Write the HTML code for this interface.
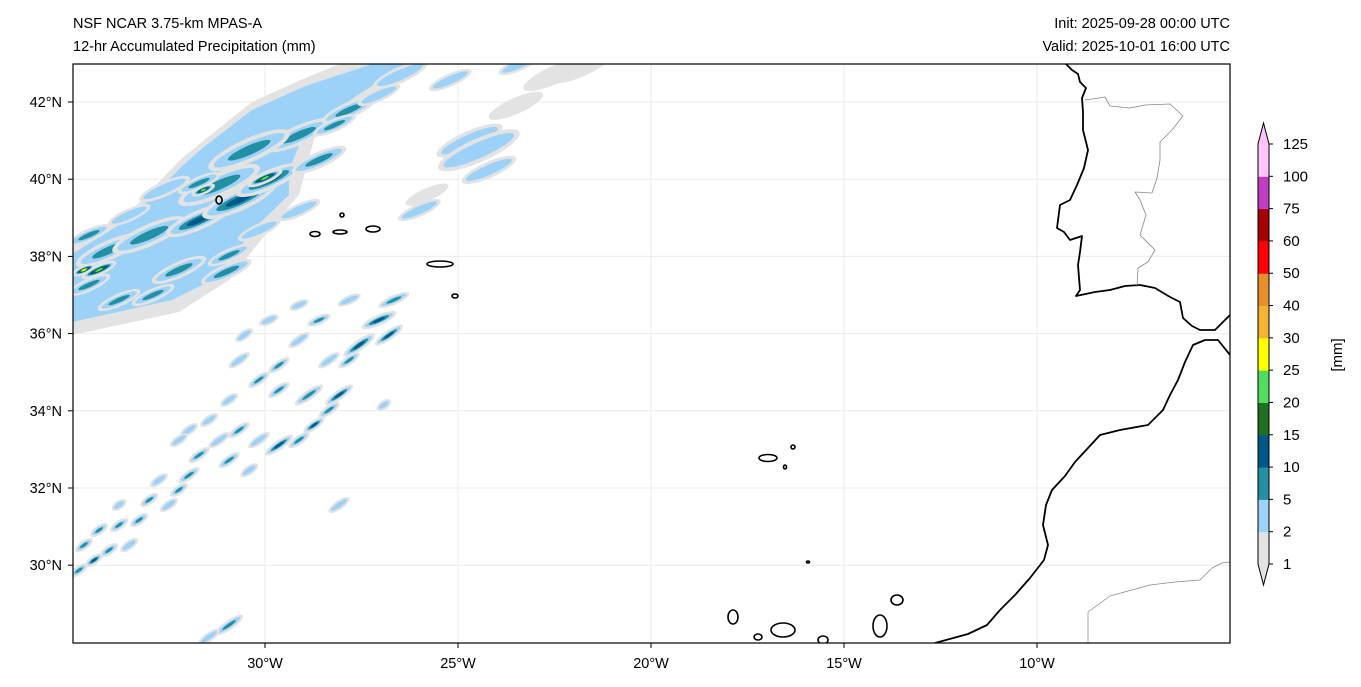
<!DOCTYPE html>
<html><head><meta charset="utf-8"><style>
html,body{margin:0;padding:0;background:#fff;}
svg{display:block;font-family:"Liberation Sans","DejaVu Sans",sans-serif;}
</style></head><body>
<svg id="map" width="1361" height="687" viewBox="0 0 1361 687" xmlns="http://www.w3.org/2000/svg">
<text x="73" y="28" font-size="14.5">NSF NCAR 3.75-km MPAS-A</text>
<text x="73" y="51" font-size="14.5">12-hr Accumulated Precipitation (mm)</text>
<text x="1230" y="28" font-size="14.5" text-anchor="end">Init: 2025-09-28 00:00 UTC</text>
<text x="1230" y="51" font-size="14.5" text-anchor="end">Valid: 2025-10-01 16:00 UTC</text>
<defs><clipPath id="clip"><rect x="73" y="64" width="1157" height="579"/></clipPath></defs>
<g id="grid"></g>
<g id="precip" clip-path="url(#clip)"></g>
<g id="coast" clip-path="url(#clip)"></g>
<rect x="73" y="64" width="1157" height="579" fill="none" stroke="#000" stroke-width="1.2"/>
<g id="axes"></g>
<g id="cbar"></g>
<text transform="translate(1342,355) rotate(-90)" font-size="15" text-anchor="middle">[mm]</text>
</svg>
<script>
// ---- data ----
const lonTicks=[-30,-25,-20,-15,-10];
const latTicks=[30,32,34,36,38,40,42];
const levels=[1,2,5,10,15,20,25,30,40,50,60,75,100,125];
const levelColors=["#e3e3e3","#9dd2f8","#2290a2","#00578a","#1f6e22","#52de5c","#ffff00","#f5b233","#e8902e","#ff0000","#a50000","#c03cc0","#fdc4fd"];
const capColor="#fdc4fd";
// rain bands (lon/lat polygons)
const greyBandLon=[-35,-33.45,-32.15,-30.34,-28.96,-28.08,-26.01,-27.41,-28.70,-29.12,-29.9,-30.93,-32.23,-35];
const greyBandLat=[38.29,39.2,40.55,42.0,42.62,42.98,42.98,42.05,41.14,39.59,38.68,37.39,36.56,35.96];
const blueBandLon=[-35,-33.45,-32.15,-31.55,-30.34,-28.96,-27.23,-26.37,-27.67,-28.96,-29.38,-29.38,-30.16,-31.37,-32.41,-35];
const blueBandLat=[38.06,39.02,40.34,40.86,41.79,42.41,42.98,42.98,42.13,41.25,40.24,39.59,38.84,37.39,36.87,36.3];
// precipitation cells: lon, lat, length (deg), max value (mm)
const cellLon=[-34.04,-33.0,-31.71,-30.67,-29.9,-28.6,-32.23,-30.93,-33.78,-34.56,-34.3,-31.19,-29.12,-27.82,-30.41,-31.71,-32.6,-27.05,-29.12,-30.15,-34.56,-33.52,-30.0,-31.6,-34.69,-28.2,-26.5,-24.7,-24.2,-26.0,-25.2,-23.4,-24.46,-22.5,-21.8,-23.5,-25.8,-31.0,-32.9,
-26.66,-27.05,-26.79,-27.56,-27.82,-28.34,-29.12,-28.6,-27.82,-29.64,-30.16,-30.67,-29.64,-28.86,-28.08,-28.34,-28.73,-29.12,-29.64,-30.16,-30.67,-31.19,-31.71,-30.93,-30.41,-31.97,-32.23,-32.75,-32.49,-33.26,-33.78,-34.30,-34.69,-34.43,-34.82,-34.04,-33.52,-33.0,-31.45,-30.93,-31.97,-28.08,-30.93,-31.45,-29.12,-29.9,-30.54,-32.23,-26.92,-33.78];
const cellLat=[38.16,38.55,38.94,39.46,39.98,40.5,37.65,38.03,36.87,37.26,37.65,39.85,41.14,41.79,40.75,39.9,39.75,42.18,39.2,38.68,38.55,39.07,40.03,39.72,37.65,41.4,42.7,41.0,40.24,39.2,42.57,42.98,40.75,42.7,42.9,41.9,39.6,37.6,37.0,
36.87,36.35,35.96,35.70,35.31,35.31,35.83,36.35,36.87,35.18,34.80,35.31,34.54,34.41,34.41,34.02,33.63,33.24,33.11,33.24,33.5,33.24,32.85,32.72,32.46,32.33,31.95,32.2,31.56,31.17,31.04,30.91,30.52,30.13,29.87,30.39,30.52,31.69,33.76,34.28,33.5,31.56,28.45,28.14,36.74,36.35,35.96,33.24,34.15,31.56];
const cellLen=[1.6,1.8,1.6,1.8,1.6,1.3,1.3,1.0,1.0,1.0,0.8,2.0,1.6,1.3,2.0,1.0,1.2,1.0,1.0,1.0,1.0,1.0,0.8,0.5,0.5,1.0,1.3,1.6,1.3,1.0,1.0,1.0,2.0,1.5,1.5,1.3,1.0,1.2,1.0,
0.7,0.8,0.7,0.8,0.5,0.5,0.5,0.5,0.5,0.5,0.5,0.5,0.5,0.7,0.7,0.5,0.5,0.5,0.7,0.5,0.5,0.5,0.5,0.5,0.4,0.5,0.4,0.4,0.4,0.4,0.4,0.4,0.4,0.4,0.4,0.4,0.4,0.4,0.4,0.4,0.4,0.5,0.7,0.5,0.4,0.4,0.4,0.4,0.3,0.3];
const cellVal=[8,8,12,10,14,8,8,6,6,6,22,8,8,8,6,8,4,4,4,4,6,4,22,22,28,6,4,3,3,3,3,3,3,1.5,1.5,1.5,1.5,6,6,
8,14,12,10,6,4,4,6,4,6,6,4,6,8,14,8,10,6,10,4,6,4,6,8,4,6,6,4,4,6,8,8,6,10,6,6,4,6,4,4,4,3,8,4,4,4,4,4,3,4];
// ---- projection ----
const X=lon=>265+(lon+30)*38.6, Y=lat=>102+(42-lat)*38.6;
const NS="http://www.w3.org/2000/svg";
function mk(tag,attrs,parent){const e=document.createElementNS(NS,tag);for(const k in attrs)e.setAttribute(k,attrs[k]);parent.appendChild(e);return e;}
const grid=document.getElementById('grid'),axes=document.getElementById('axes');
lonTicks.forEach(l=>{
  const g=mk('line',{x1:X(l),x2:X(l),y1:64,y2:643,stroke:'#ebebeb','stroke-width':1},grid);
  
  
  const t=mk('line',{x1:X(l),x2:X(l),y1:643,y2:648,stroke:'#000'},axes);
  
  
  const tx=mk('text',{x:X(l),y:668,'font-size':14.5,'text-anchor':'middle'},axes);
  tx.textContent=Math.abs(l)+'°W';
  
  
});
latTicks.forEach(l=>{
  const g=mk('line',{x1:73,x2:1230,y1:Y(l),y2:Y(l),stroke:'#ebebeb','stroke-width':1},grid);
  
  
  const t=mk('line',{x1:68,x2:73,y1:Y(l),y2:Y(l),stroke:'#000'},axes);
  
  
  const tx=mk('text',{x:62,y:Y(l)+5,'font-size':14.5,'text-anchor':'end'},axes);
  tx.textContent=l+'°N';
  
  
});
// precip
const P=document.getElementById('precip');
function poly(lons,lats,fill,name){
  const p=mk('polygon',{points:lons.map((l,i)=>X(l)+','+Y(lats[i])).join(' '),fill:fill},P);
  
  
}
poly(greyBandLon,greyBandLat,levelColors[0],'rain-band-light');
poly(blueBandLon,blueBandLat,levelColors[1],'rain-band-moderate');
function colorIdx(v){let i=0;while(i<levels.length-1&&v>=levels[i+1])i++;return i;}
cellLon.forEach((lon,i)=>{
  const cx=X(lon),cy=Y(cellLat[i]),len=cellLen[i]*38.6/2,v=cellVal[i];
  const ang=cellLat[i]>36.1?-24:-35;
  const g=mk('g',{transform:`translate(${cx},${cy}) rotate(${ang})`},P);
  
  
  const top=colorIdx(v);
  const w=Math.max(2.5,len*0.2);
  mk('ellipse',{rx:len*1.1+2,ry:w*1.4+1,fill:levelColors[0]},g);
  for(let k=1;k<=top;k++){
    const f=1-(k-1)/(top+0.5);
    mk('ellipse',{rx:Math.max(1.5,len*f),ry:Math.max(1,w*f),fill:levelColors[k]},g);
  }
});
// coastlines
const C=document.getElementById('coast');
function line(pts,stroke,sw,name){
  const e=mk('polyline',{points:pts,fill:'none',stroke:stroke,'stroke-width':sw,'stroke-linejoin':'round'},C);
  
  
}
line("1066,64 1072,70 1078,74 1080,82 1086,88 1082,98 1083,112 1083,130 1088,150 1084,168 1077,185 1070,200 1060,205 1057,228 1064,232 1070,240 1082,236 1080,252 1078,265 1080,290 1076,296 1095,292 1110,290 1125,286 1140,285 1155,288 1170,297 1180,302 1183,318 1192,326 1200,330 1215,330 1230,315","#000",1.8,'iberia-coast');
line("1085,100 1105,97 1110,106 1130,108 1145,105 1170,104 1183,116 1172,130 1160,142 1160,160 1157,178 1152,193 1135,192 1140,200 1146,215 1140,235 1155,250 1148,262 1138,268 1137,287","#888",0.8,'portugal-spain-border');
line("1230,355 1218,340 1205,340 1193,345 1185,362 1178,380 1170,395 1163,410 1148,425 1120,430 1100,435 1088,448 1075,462 1065,476 1052,490 1046,505 1043,525 1048,545 1044,560 1030,578 1015,595 1000,610 987,625 968,634 935,643","#000",1.8,'africa-coast');
line("1088,643 1088,612 1110,596 1150,585 1175,582 1200,580 1212,568 1222,563 1230,562","#888",0.7,'western-sahara-border');
const islands=[[219,200,3,4],[315,234,5,2.5],[340,232,7,2],[373,229,7,3],[342,215,2,2],[440,264,13,3],[455,296,3,2],[768,458,9,3.5],[793,447,2,2],[785,467,1.5,2],[733,617,5,7],[758,637,4,3],[783,630,12,7],[823,640,5,4],[880,626,7,11],[897,600,6,5],[808,562,1.5,1]];
islands.forEach(a=>{
  const e=mk('ellipse',{cx:a[0],cy:a[1],rx:a[2],ry:a[3],fill:'none',stroke:'#000','stroke-width':1.6},C);
  
  
});
// colorbar
const CB=document.getElementById('cbar');
const cbX=1258,cbW=11,cbTop=144,cbBot=564,n=levels.length-1,seg=(cbBot-cbTop)/n;
for(let i=0;i<n;i++){
  const r=mk('rect',{x:cbX,y:cbBot-(i+1)*seg,width:cbW,height:seg+0.5,fill:levelColors[i]},CB);
  
  
}
const tu=mk('polygon',{points:`${cbX},${cbTop} ${cbX+cbW/2},${cbTop-21} ${cbX+cbW},${cbTop}`,fill:capColor},CB);


const td=mk('polygon',{points:`${cbX},${cbBot} ${cbX+cbW/2},${cbBot+21} ${cbX+cbW},${cbBot}`,fill:levelColors[0]},CB);


const ol=mk('polygon',{points:`${cbX},${cbTop} ${cbX+cbW/2},${cbTop-21} ${cbX+cbW},${cbTop} ${cbX+cbW},${cbBot} ${cbX+cbW/2},${cbBot+21} ${cbX},${cbBot}`,fill:'none',stroke:'#000','stroke-width':1},CB);


levels.forEach((lv,i)=>{
  const y=cbBot-i*seg;
  const t=mk('line',{x1:cbX+cbW,x2:cbX+cbW+4,y1:y,y2:y,stroke:'#000'},CB);
  
  
  const tx=mk('text',{x:1283,y:y+5,'font-size':15},CB);
  tx.textContent=lv;
  
  
});
</script>
</body></html>
